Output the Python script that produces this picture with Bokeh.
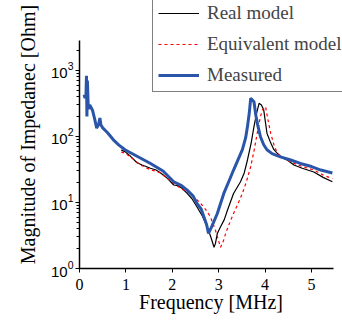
from bokeh.plotting import figure
from bokeh.models import Legend, LegendItem, Range1d
from bokeh.embed import file_html
from bokeh.resources import INLINE

# Measured
meas_x = [0.10, 0.12, 0.14, 0.15, 0.16, 0.17, 0.19, 0.22, 0.28, 0.33, 0.37, 0.41, 0.44, 0.46, 0.50,
          0.60, 0.73, 0.85, 0.98, 1.2, 1.53, 1.8, 2.03, 2.2, 2.32, 2.45, 2.53, 2.62, 2.68, 2.74, 2.78,
          2.85, 2.97, 3.11, 3.22, 3.32, 3.42, 3.51, 3.58, 3.62, 3.66, 3.69, 3.72, 3.76, 3.80, 3.84,
          3.90, 3.97, 4.04, 4.15, 4.33, 4.55, 4.76, 5.0, 5.2, 5.45]
meas_y = [430, 380, 420, 830, 200, 700, 260, 300, 250, 180, 134, 150, 190, 150, 135,
          115, 89, 74, 63, 52, 39, 30, 20.6, 18, 15.4, 12.5, 9.7, 8.0, 6.1, 4.6, 3.4,
          4.3, 6.8, 13.7, 21, 31, 45, 63, 95, 141, 230, 380, 360, 336, 210, 150,
          99, 75, 63, 55, 49, 44, 39, 35, 31, 28]

# Real model
real_x = [0.90, 0.98, 1.1, 1.24, 1.35, 1.53, 1.65, 1.75, 1.9, 2.03, 2.12, 2.21, 2.32, 2.42, 2.53,
          2.65, 2.75, 2.83, 2.90, 2.93, 2.97, 3.04, 3.12, 3.19, 3.32, 3.47, 3.55, 3.62, 3.70, 3.76,
          3.82, 3.87, 3.92, 3.97, 4.04, 4.12, 4.19, 4.30, 4.40, 4.50, 4.62, 4.80, 5.05, 5.25, 5.45]
real_y = [62, 59, 50, 40, 37, 33, 31, 28, 23, 18.4, 18.0, 16.4, 13.7, 11.5, 8.6,
          6.2, 4.3, 3.0, 2.1, 2.4, 3.4, 4.3, 5.5, 7.7, 13.7, 20.6, 28, 44, 80, 141,
          230, 318, 300, 253, 112, 80, 63, 52, 47, 43, 37, 33, 29, 24, 20.6]

# Equivalent model
equi_x = [0.90, 0.98, 1.15, 1.31, 1.5, 1.75, 1.9, 2.03, 2.2, 2.39, 2.5, 2.61, 2.72, 2.82, 2.93,
          3.00, 3.04, 3.10, 3.15, 3.22, 3.32, 3.42, 3.51, 3.60, 3.69, 3.77, 3.83, 3.90, 3.94, 4.01,
          4.06, 4.12, 4.19, 4.26, 4.40, 4.55, 4.80, 5.05, 5.25, 5.45]
equi_y = [58, 56, 46, 37, 32, 28, 23, 19.5, 16, 13.7, 11.5, 9.7, 7.8, 6.1, 3.8,
          2.6, 2.1, 2.6, 3.4, 4.6, 6.8, 9.7, 13.7, 21, 35, 65, 112, 200, 253, 283,
          180, 112, 75, 56, 47, 41, 35, 31, 26, 23]

x_ticks = [0, 1, 2, 3, 4, 5]
x_bounds = (0, 5.48)
y_bounds = (1, 2840)

p = figure(width=342, height=322, output_backend="svg", toolbar_location=None,
           y_axis_type="log", x_range=Range1d(0, 5.668), y_range=Range1d(1, 11460),
           min_border_left=79, min_border_right=0, min_border_top=0, min_border_bottom=54)
p.outline_line_color = None
p.grid.visible = False
p.background_fill_color = "white"
p.border_fill_color = "white"

serif = "Liberation Serif"

l_real = p.line(real_x, real_y, line_color="black", line_width=1.2)
l_equi = p.line(equi_x, equi_y, line_color="red", line_width=1.2, line_dash="3 3")
l_meas = p.line(meas_x, meas_y, line_color="#2a55a8", line_width=3)

p.xaxis.ticker = x_ticks
p.xaxis.ticker.num_minor_ticks = 2
xa = p.xaxis[0]
xa.bounds = x_bounds
xa.axis_label = "Frequency [MHz]"
xa.axis_label_text_font = serif
xa.axis_label_text_font_size = "20px"
xa.axis_label_text_font_style = "normal"
xa.axis_label_standoff = -2
xa.major_label_text_font = serif
xa.major_label_text_font_size = "16px"
xa.major_label_standoff = 6

ya = p.yaxis[0]
ya.bounds = y_bounds
ya.axis_label = "Magnitude of Impedanec [Ohm]"
ya.axis_label_text_font = serif
ya.axis_label_text_font_size = "20px"
ya.axis_label_text_font_style = "normal"
ya.axis_label_standoff = 9
ya.major_label_text_font = "Liberation Sans"
ya.major_label_text_font_size = "15px"
ya.major_label_standoff = 2

for ax in (xa, ya):
    ax.axis_line_color = "black"
    ax.axis_line_width = 1.5
    ax.major_tick_line_color = "black"
    ax.minor_tick_line_color = "black"
    ax.major_tick_in = 0
    ax.major_tick_out = 4
    ax.minor_tick_in = 0
    ax.minor_tick_out = 3
    ax.major_label_text_color = "black"
    ax.axis_label_text_color = "black"

legend = Legend(items=[LegendItem(label="Real model", renderers=[l_real]),
                       LegendItem(label="Equivalent model", renderers=[l_equi]),
                       LegendItem(label="Measured", renderers=[l_meas])],
                location=(73, 176))
legend.label_text_font = serif
legend.label_text_font_size = "19px"
legend.glyph_width = 41
legend.glyph_height = 20
legend.label_height = 20
legend.spacing = 9
legend.padding = 5
legend.margin = 0
legend.label_standoff = 8
legend.border_line_color = "black"
legend.border_line_width = 1.5
legend.background_fill_color = "white"
legend.background_fill_alpha = 1.0
p.add_layout(legend, "center")

open("out.html", "w").write(file_html(p, INLINE))
